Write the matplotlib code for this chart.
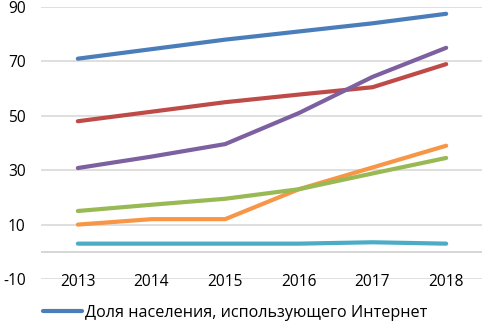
import numpy as np
import matplotlib.pyplot as plt

years = ["2013", "2014", "2015", "2016", "2017", "2018"]
internet = [71, 74.5, 78, 81, 84, 87.5]
red_s = [48, 51.5, 55, 57.8, 60.5, 69]
purple_s = [30.8, 35, 39.6, 51, 64.3, 75]
orange_s = [10, 12, 12, 23, 31, 39]
green_s = [15, 17.3, 19.5, 23, 28.8, 34.5]
teal_s = [3, 3, 3, 3, 3.5, 3]

series = [
    (internet, "#4A7EBB", "Доля населения, использующего Интернет"),
    (red_s, "#BE4B48", None),
    (purple_s, "#7D60A0", None),
    (orange_s, "#F79646", None),
    (green_s, "#98B954", None),
    (teal_s, "#4BACC6", None),
]

plt.rcParams['font.family'] = ['Open Sans', 'DejaVu Sans']
plt.rcParams['axes.unicode_minus'] = False

fig = plt.figure(figsize=(4.82, 3.24), dpi=100)
ax = fig.add_axes([41 / 482, 1 - 279 / 324, (483 - 41) / 482, (279 - 7) / 324])

x = np.arange(len(years))
handles = []
for vals, col, lab in series:
    ln, = ax.plot(x, vals, color=col, lw=3.0, solid_capstyle='round', label=lab)
    if lab:
        handles.append(ln)

ax.set_xlim(-0.5, len(years) - 0.5)
ax.set_ylim(-10, 90)
ax.set_yticks([-10, 10, 30, 50, 70, 90])
for v in [-10, 10, 30, 50, 70, 90]:
    ax.axhline(v, color="#D9D9D9", lw=1.2, zorder=0)
ax.axhline(0, color="#D0D0D0", lw=1.2, zorder=0)

for s in ax.spines.values():
    s.set_visible(False)
ax.spines['bottom'].set_position(('data', 0))
ax.set_xticks(x)
ax.set_xticklabels(years)
ax.tick_params(axis='x', length=0, pad=16, labelsize=11.2)
ax.tick_params(axis='y', length=0, pad=11, labelsize=11.2)

fig.legend(handles=handles, loc='lower left', bbox_to_anchor=(0.06, -0.035),
           frameon=False, fontsize=11.6, handlelength=2.4, handletextpad=0.2)

fig.savefig("out.png", dpi=100)
